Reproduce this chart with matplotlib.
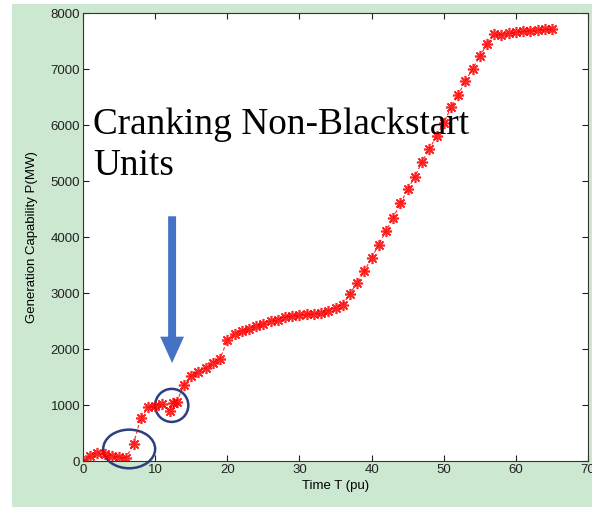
import matplotlib
matplotlib.use('Agg')
import matplotlib.pyplot as plt
from matplotlib.patches import Ellipse, Rectangle

# dados
tempo = [0, 1, 2, 3, 4, 5, 6, 7, 8, 9, 10, 11, 12, 12.5, 13, 14, 15, 16, 17, 18,
         19, 20, 21, 22, 23, 24, 25, 26, 27, 28, 29, 30, 31, 32, 33, 34, 35,
         36, 37, 38, 39, 40, 41, 42, 43, 44, 45, 46, 47, 48, 49, 50, 51, 52,
         53, 54, 55, 56, 57, 58, 59, 60, 61, 62, 63, 64, 65]
potencia = [0, 90, 150, 120, 90, 77, 60, 310, 760, 960, 990, 1010, 890, 1040,
            1062, 1360, 1521, 1590, 1655, 1748, 1830, 2153, 2273, 2315, 2350,
            2404, 2447, 2494, 2524, 2565, 2595, 2613, 2619, 2631, 2645, 2680,
            2740, 2792, 2989, 3180, 3390, 3630, 3866, 4105, 4344, 4600, 4851,
            5078, 5340, 5567, 5805, 6032, 6313, 6533, 6790, 6999, 7227, 7447,
            7626, 7614, 7638, 7656, 7674, 7685, 7700, 7712, 7715]

texto = 'Cranking Non-Blackstart\nUnits'

fig = plt.figure(figsize=(5.92, 5.07), dpi=100)
fig.patch.set_facecolor('white')
# fundo verde
fig.patches.append(Rectangle((12 / 592, 0), 1, 1 - 4 / 507,
                             transform=fig.transFigure, facecolor='#cde8d0',
                             edgecolor='none', zorder=-10))

ax = fig.add_axes([83 / 592, 46 / 507, 505 / 592, 448 / 507])
ax.set_facecolor('white')

ax.plot(tempo, potencia, color='red', linestyle=(0, (3, 2)), linewidth=0.8,
        marker=(8, 2, 0), markersize=8, markeredgewidth=1.2,
        markeredgecolor='red', alpha=0.85)

ax.set_xlim(0, 70)
ax.set_ylim(0, 8000)
ax.set_xticks(range(0, 71, 10))
ax.set_yticks(range(0, 8001, 1000))
ax.tick_params(direction='in', top=True, right=True, labelsize=9.5,
               length=4, pad=2, colors='#222222')
for lbl in ax.get_xticklabels() + ax.get_yticklabels():
    lbl.set_family('Liberation Sans')
for s in ax.spines.values():
    s.set_color('#333333')

ax.set_xlabel('Time T (pu)', fontsize=9.5, family='Liberation Sans', labelpad=3)
ax.set_ylabel('Generation Capability P(MW)', fontsize=9.5,
              family='Liberation Sans', labelpad=9)

# elipses
ax.add_patch(Ellipse((6.4, 215), 7.2, 690, facecolor='none',
                     edgecolor='#2e3f7f', linewidth=1.8, clip_on=False))
ax.add_patch(Ellipse((12.3, 993), 4.6, 590, facecolor='none',
                     edgecolor='#2e3f7f', linewidth=1.8, clip_on=False))

# seta azul
ax.arrow(12.35, 4370, 0, -2150, width=1.1, head_width=3.3, head_length=470,
         length_includes_head=False, color='#4472c4', linewidth=0)

fig.text(93 / 592, 1 - 107 / 507, texto, family='Liberation Serif',
         fontsize=26.8, va='top', ha='left', linespacing=1.27)

plt.savefig('out.png', dpi=100)
